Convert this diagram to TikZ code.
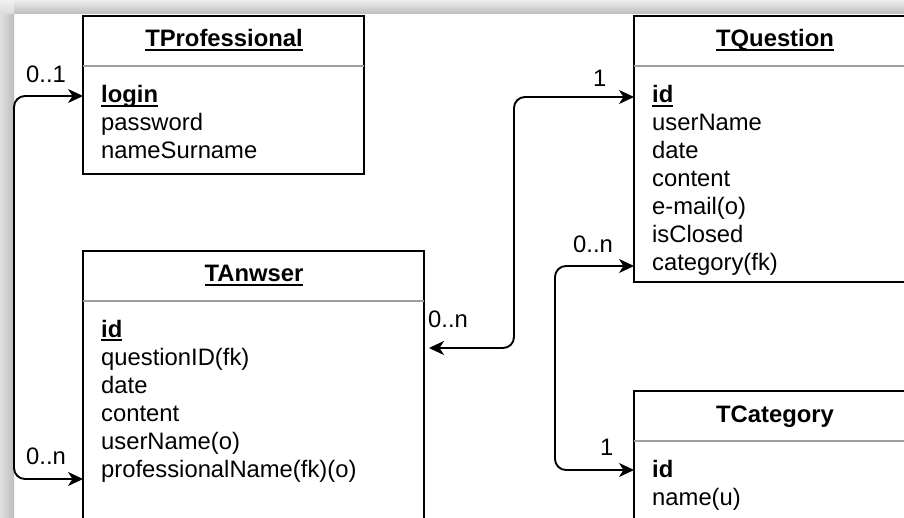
\documentclass[tikz,border=0pt]{standalone}
\usepackage{fontspec}
\setmainfont{Liberation Sans}
\usetikzlibrary{arrows.meta}
\newcommand\fs{\fontsize{23.8}{28}\selectfont}
\newcommand\myul[1]{\setbox0\hbox{#1}\rlap{\rule[-3.8pt]{\wd0}{1.6pt}}\box0}
\tikzset{
  box/.style={draw=black, line width=1.8pt, fill=white, anchor=north west, inner sep=0pt, outer sep=0pt},
  sepline/.style={draw=black!38, line width=1.6pt},
  txt/.style={anchor=base west, inner sep=0pt, font=\fs, text=black},
  ttl/.style={anchor=base, inner sep=0pt, font=\fs\bfseries, text=black},
  lbl/.style={anchor=base west, inner sep=0pt, font=\fs, text=black},
  conn/.style={line width=1.9pt, rounded corners=11pt, {Stealth[length=15pt,width=14pt,inset=4.5pt]}-{Stealth[length=15pt,width=14pt,inset=4.5pt]}}
}
\begin{document}
\begin{tikzpicture}[x=1pt,y=-1pt]
\useasboundingbox (0,0) rectangle (904,518);
\clip (0,0) rectangle (904,518);
\fill[white] (0,0) rectangle (904,518);
% screenshot frame
\shade[top color=black!7, bottom color=black!26] (0,0) rectangle (904,14);
\shade[left color=black!12, right color=black!26] (0,14) rectangle (14,518);
\shade[top color=black!6, bottom color=black!14] (0,0) rectangle (14,14);

% boxes
\node[box, minimum width=281pt, minimum height=158pt] (prof) at (83,16) {};
\node[box, minimum width=282pt, minimum height=266pt] (quest) at (634,16) {};
\node[box, minimum width=341pt, minimum height=320pt] (answ) at (83,251) {};
\node[box, minimum width=282pt, minimum height=180pt] (cat) at (634,391) {};

\draw[sepline] ([yshift=-50pt]prof.north west) -- ([yshift=-50pt]prof.north east);
\draw[sepline] ([yshift=-50pt]quest.north west) -- ([yshift=-50pt]quest.north east);
\draw[sepline] ([yshift=-50pt]answ.north west) -- ([yshift=-50pt]answ.north east);
\draw[sepline] ([yshift=-50pt]cat.north west) -- ([yshift=-50pt]cat.north east);

% TProfessional
\node[ttl] (proft) at (224,47) {\myul{TProfessional}};
\node[txt] (p1) at (101,103) {\bfseries\myul{login}};
\node[txt] (p2) at (101,131) {password};
\node[txt] (p3) at (101,159) {nameSurname};

% TQuestion
\node[ttl] (questt) at (775,47) {\myul{TQuestion}};
\node[txt] (q1) at (652,103) {\bfseries\myul{id}};
\node[txt] (q2) at (652,131) {userName};
\node[txt] (q3) at (652,159) {date};
\node[txt] (q4) at (652,187) {content};
\node[txt] (q5) at (652,215) {e-mail(o)};
\node[txt] (q6) at (652,243) {isClosed};
\node[txt] (q7) at (652,271) {category(fk)};

% TAnwser
\node[ttl] (answt) at (254,282) {\myul{TAnwser}};
\node[txt] (a1) at (101,337) {\bfseries\myul{id}};
\node[txt] (a2) at (101,365) {questionID(fk)};
\node[txt] (a3) at (101,393) {date};
\node[txt] (a4) at (101,421) {content};
\node[txt] (a5) at (101,449) {userName(o)};
\node[txt] (a6) at (101,477) {professionalName(fk)(o)};

% TCategory
\node[ttl] (catt) at (775,422) {TCategory};
\node[txt] (c1) at (652,477) {\bfseries id};
\node[txt] (c2) at (652,505) {name(u)};

% connector anchors
\coordinate (L) at (14,0);
\coordinate (M) at (514,0);
\coordinate (N) at (555,0);
\coordinate (pl) at ([yshift=-80pt]prof.north west);
\coordinate (al) at ([yshift=-228pt]answ.north west);
\coordinate (ql) at ([yshift=-81pt]quest.north west);
\coordinate (ar) at ([yshift=-97pt]answ.north east);
\coordinate (qc) at ([yshift=-250pt]quest.north west);
\coordinate (cl) at ([yshift=-79pt]cat.north west);

\draw[conn] (pl) -- (pl -| L) -- (al -| L) -- (al);
\draw[conn, shorten <=5pt] (ar) -- (ar -| M) -- (ql -| M) -- (ql);
\draw[conn] (qc) -- (qc -| N) -- (cl -| N) -- (cl);

% multiplicity labels
\node[lbl] (m1) at (26,83) {0..1};
\node[lbl] (m2) at (26,464) {0..n};
\node[lbl] (m3) at (593,87) {1};
\node[lbl] (m4) at (428,327) {0..n};
\node[lbl] (m5) at (573,253) {0..n};
\node[lbl] (m6) at (600,455) {1};
\end{tikzpicture}
\end{document}
